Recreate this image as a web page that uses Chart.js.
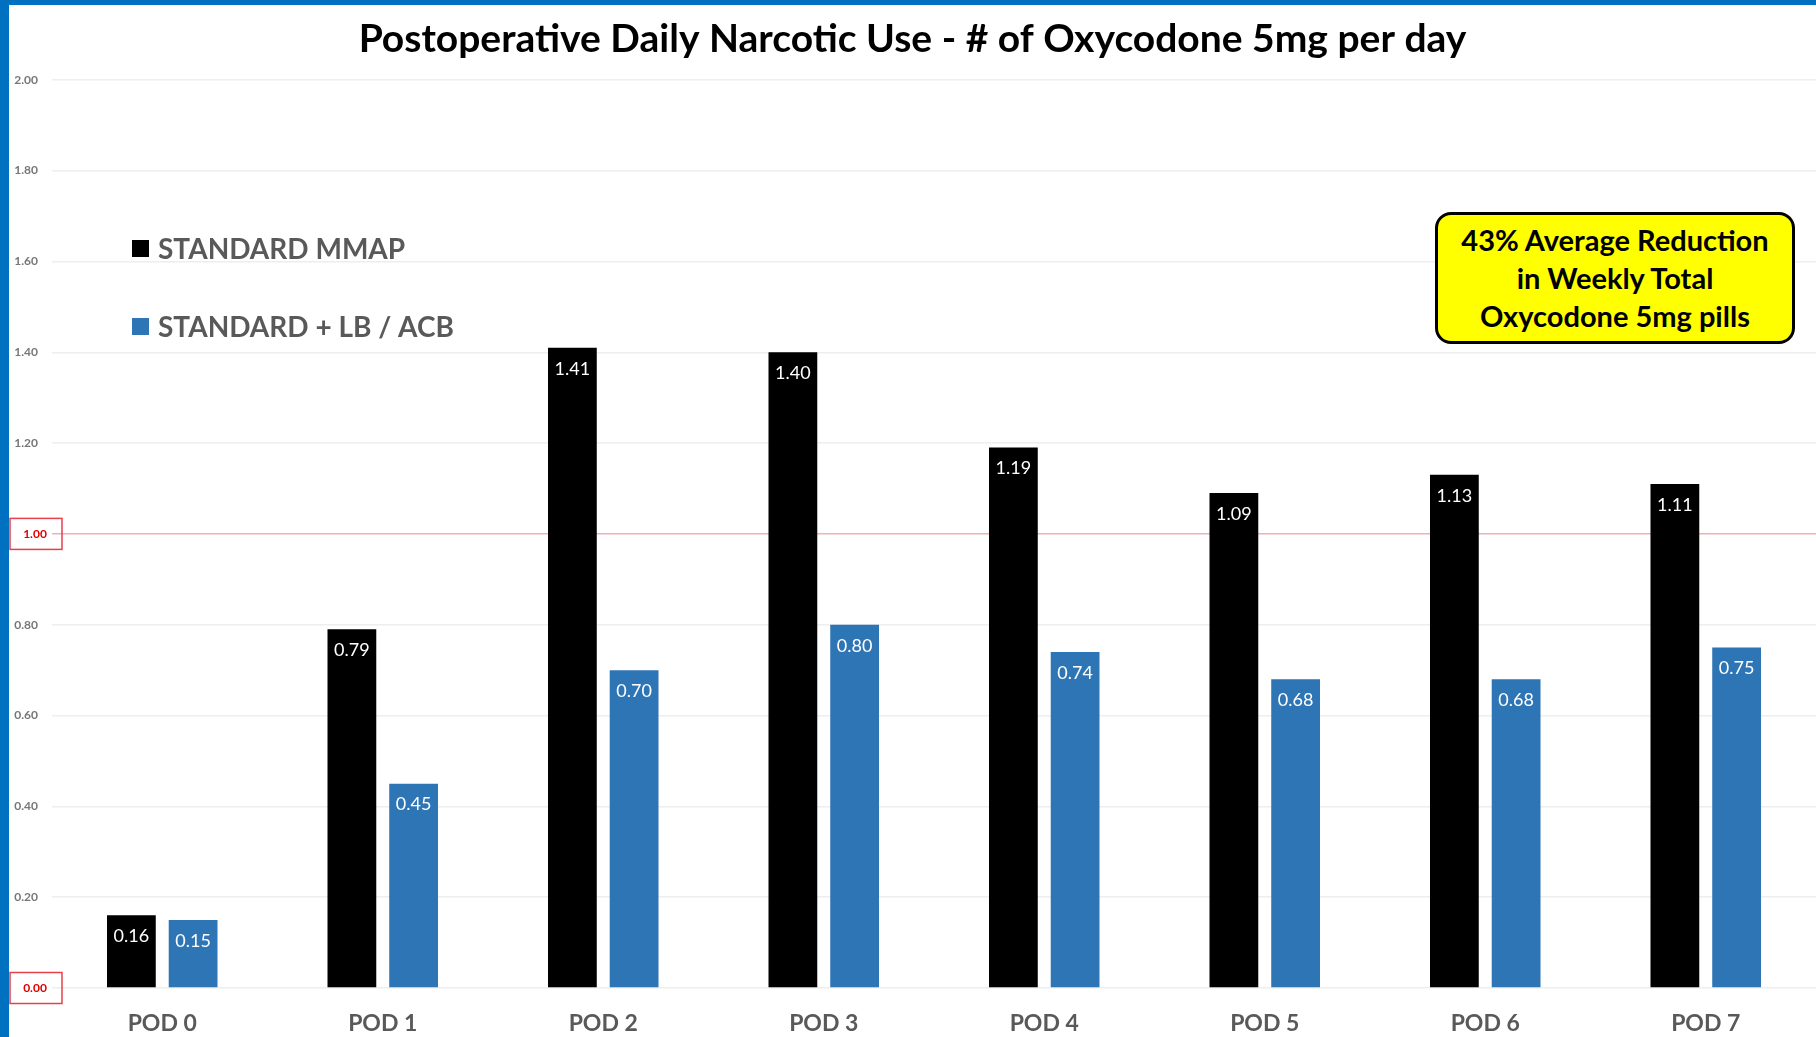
<!DOCTYPE html>
<html>
<head>
<meta charset="utf-8">
<title>Postoperative Daily Narcotic Use</title>
<script src="https://cdn.jsdelivr.net/npm/chart.js@4.4.1/dist/chart.umd.min.js"></script>
<style>
  html, body { margin: 0; padding: 0; background: #fff; }
  body { width: 1816px; height: 1037px; position: relative; overflow: hidden; font-family: Lato, "Open Sans", sans-serif; }
  #frame { position: absolute; left: 0; top: 0; width: 1816px; height: 1037px; box-sizing: border-box;
           border-top: 5px solid #0070C0; border-left: 9px solid #0070C0; }
  #wrap { position: absolute; left: 9px; top: 5px; width: 1807px; height: 1032px; }
  #callout { position: absolute; left: 1435px; top: 212px; width: 360px; height: 132px; box-sizing: border-box;
             border: 3px solid #000; border-radius: 16px; background: #ffff00;
             display: flex; align-items: center; justify-content: center; text-align: center;
             font-weight: bold; font-size: 29px; line-height: 38px; color: #000; }
</style>
</head>
<body>
<div id="frame"></div>
<div id="wrap"><canvas id="chart" width="1807" height="1032"></canvas></div>
<div id="callout">43% Average Reduction<br>in Weekly Total<br>Oxycodone 5mg pills</div>
<script>
// data
const categories = ['POD 0', 'POD 1', 'POD 2', 'POD 3', 'POD 4', 'POD 5', 'POD 6', 'POD 7'];
const standardMmap = [0.16, 0.79, 1.41, 1.40, 1.19, 1.09, 1.13, 1.11];
const standardLbAcb = [0.15, 0.45, 0.70, 0.80, 0.74, 0.68, 0.68, 0.75];
const seriesNames = ['STANDARD MMAP', 'STANDARD + LB / ACB'];
const seriesColors = ['#000000', '#2E75B6'];
const boxedTicks = [0, 1];  // y ticks drawn in red boxes

Chart.defaults.font.family = 'Lato, "Open Sans", sans-serif';

const isBoxed = (v) => boxedTicks.some(b => Math.abs(b - v) < 1e-6);

// value labels, legend and red tick boxes
const extrasPlugin = {
  id: 'extras',
  afterDatasetsDraw(chart) {
    const ctx = chart.ctx;
    ctx.save();
    ctx.font = '18px Lato';
    ctx.fillStyle = '#ffffff';
    ctx.textAlign = 'center';
    ctx.textBaseline = 'middle';
    chart.data.datasets.forEach((ds, i) => {
      chart.getDatasetMeta(i).data.forEach((bar, j) => {
        ctx.fillText(ds.data[j].toFixed(2), bar.x, bar.y + 21);
      });
    });
    ctx.restore();
  },
  afterDraw(chart) {
    const ctx = chart.ctx;
    const yScale = chart.scales.y;
    ctx.save();

    // red boxed ticks
    ctx.strokeStyle = '#e8404a';
    ctx.lineWidth = 1.5;
    ctx.fillStyle = '#e00000';
    ctx.font = 'bold 12px Lato';
    ctx.textAlign = 'center';
    ctx.textBaseline = 'middle';
    boxedTicks.forEach(v => {
      const y = yScale.getPixelForValue(v);
      ctx.strokeRect(1, y - 15.5, 52, 31);
      ctx.fillText(v.toFixed(2), 26, y);
    });

    // legend
    ctx.font = 'bold 28px Lato';
    ctx.textAlign = 'left';
    chart.data.datasets.forEach((ds, i) => {
      const cy = 243 + i * 78;
      ctx.fillStyle = ds.backgroundColor;
      ctx.fillRect(123, cy - 8, 17, 17);
      ctx.fillStyle = '#595959';
      ctx.fillText(ds.label, 149, cy + 2);
    });
    ctx.restore();
  }
};

const data = {
  labels: categories,
  datasets: [
    { label: seriesNames[0], data: standardMmap, backgroundColor: seriesColors[0] },
    { label: seriesNames[1], data: standardLbAcb, backgroundColor: seriesColors[1] }
  ]
};

const config = {
  type: 'bar',
  data,
  options: {
    responsive: false,
    animation: false,
    datasets: {
      bar: { barPercentage: 0.79, categoryPercentage: 0.56 }
    },
    layout: { padding: 0 },
    plugins: {
      legend: { display: false },
      tooltip: { enabled: false },
      title: {
        display: true,
        text: 'Postoperative Daily Narcotic Use - # of Oxycodone 5mg per day',
        color: '#000',
        font: { size: 39, weight: 'bold' },
        padding: { top: 11, bottom: 17 }
      }
    },
    scales: {
      x: {
        grid: { display: false, drawTicks: false },
        border: { display: false },
        ticks: { color: '#595959', font: { size: 23, weight: 'bold' }, padding: 22 },
        afterFit: (scale) => { scale.height = 49; }
      },
      y: {
        min: 0,
        max: 2,
        border: { display: false },
        grid: {
          drawTicks: false,
          lineWidth: 1.5,
          color: (c) => isBoxed(c.tick.value) && c.tick.value > 0 ? 'rgba(232, 110, 120, 0.55)' : '#eeeeee'
        },
        ticks: {
          stepSize: 0.2,
          padding: 14,
          color: (c) => isBoxed(c.tick.value) ? 'rgba(0,0,0,0)' : '#777777',
          font: { size: 12, weight: 'bold' },
          callback: (v) => Number(v).toFixed(2)
        },
        afterFit: (scale) => { scale.width = 43; }
      }
    }
  },
  plugins: [extrasPlugin]
};

const ctx = document.getElementById('chart').getContext('2d');
const myChart = new Chart(ctx, config);
</script>
</body>
</html>
